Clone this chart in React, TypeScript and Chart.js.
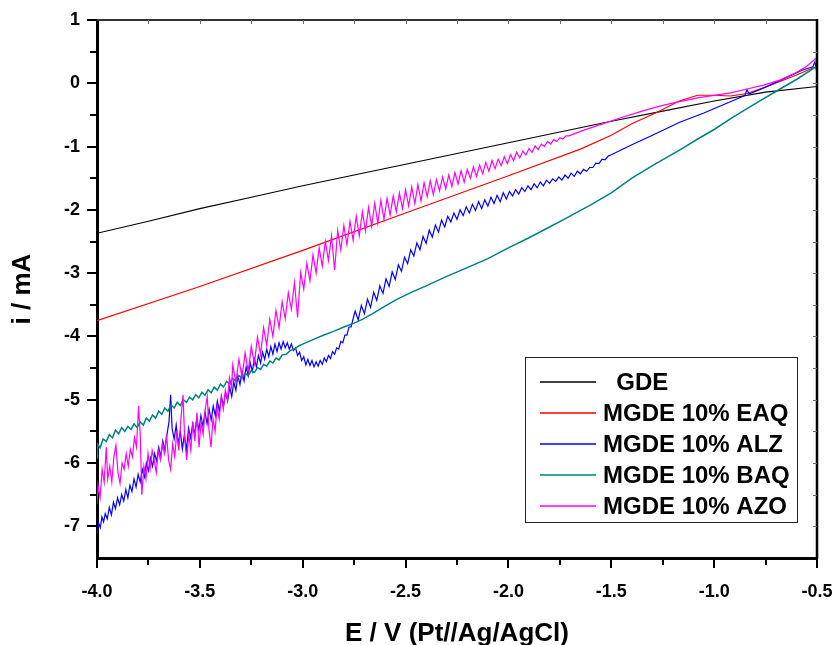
import React, { useEffect, useRef } from "react";
import { Chart, registerables } from "chart.js";

Chart.register(...registerables);

const FONT = '"Liberation Sans", Arial, Helvetica, sans-serif';

// ---------- GDE (black) ----------
const gdeE = [-4.0, -3.75, -3.5, -3.25, -3.0, -2.75, -2.5, -2.25, -2.0, -1.75, -1.5, -1.25, -1.0, -0.75, -0.5];
const gdeI = [-2.37, -2.18, -1.98, -1.8, -1.62, -1.45, -1.28, -1.11, -0.94, -0.77, -0.6, -0.44, -0.28, -0.14, -0.05];

// ---------- MGDE 10% EAQ (red) ----------
const eaqE = [-4.0, -3.5, -3.0, -2.5, -2.0, -1.65, -1.5, -1.4, -1.28, -1.17, -1.08, -1.0, -0.92, -0.84, -0.76, -0.68, -0.6, -0.5];
const eaqI = [-3.75, -3.21, -2.64, -2.05, -1.46, -1.04, -0.82, -0.64, -0.46, -0.28, -0.19, -0.19, -0.2, -0.16, -0.07, 0.03, 0.13, 0.27];

// ---------- MGDE 10% ALZ (blue) ----------
const alzE = [
  -4.000, -3.992, -3.984, -3.976, -3.968, -3.960, -3.950, -3.940, -3.930, -3.920,
  -3.910, -3.900, -3.890, -3.880, -3.870, -3.860, -3.850, -3.840, -3.830, -3.820,
  -3.810, -3.800, -3.790, -3.780, -3.770, -3.760, -3.750, -3.740, -3.730, -3.720,
  -3.710, -3.700, -3.690, -3.680, -3.670, -3.660, -3.650, -3.642, -3.635, -3.625,
  -3.615, -3.605, -3.595, -3.585, -3.575, -3.565, -3.555, -3.545, -3.535, -3.525,
  -3.515, -3.505, -3.495, -3.485, -3.475, -3.465, -3.455, -3.445, -3.435, -3.425,
  -3.415, -3.405, -3.395, -3.385, -3.375, -3.365, -3.355, -3.345, -3.335, -3.325,
  -3.315, -3.305, -3.295, -3.285, -3.275, -3.265, -3.255, -3.245, -3.235, -3.225,
  -3.215, -3.205, -3.195, -3.185, -3.175, -3.165, -3.155, -3.145, -3.135, -3.125,
  -3.115, -3.105, -3.095, -3.085, -3.075, -3.065, -3.055, -3.045, -3.035, -3.025,
  -3.015, -3.005, -2.995, -2.985, -2.975, -2.965, -2.955, -2.945, -2.935, -2.925,
  -2.915, -2.905, -2.895, -2.885, -2.875, -2.865, -2.855, -2.845, -2.835, -2.825,
  -2.815, -2.805, -2.795, -2.785, -2.775, -2.765, -2.755,
  -2.745, -2.730, -2.715, -2.700, -2.685, -2.670, -2.655, -2.640, -2.625, -2.610,
  -2.595, -2.580, -2.565, -2.550, -2.535, -2.520, -2.505, -2.490, -2.475, -2.460,
  -2.445, -2.430, -2.415, -2.400, -2.385, -2.370, -2.355, -2.340, -2.325, -2.310,
  -2.295, -2.280, -2.265, -2.250, -2.235, -2.220, -2.205, -2.190, -2.175, -2.160,
  -2.145, -2.130, -2.115, -2.100, -2.085, -2.070, -2.055, -2.040, -2.025, -2.010,
  -1.995, -1.980, -1.965, -1.950, -1.935, -1.920, -1.905, -1.890, -1.875, -1.860,
  -1.845, -1.830, -1.815, -1.800, -1.785, -1.770, -1.755, -1.740, -1.725, -1.710,
  -1.695, -1.680, -1.665, -1.650, -1.635, -1.620, -1.605, -1.590, -1.575, -1.560,
  -1.545, -1.530, -1.515, -1.500,
  -1.450, -1.400, -1.300, -1.170, -1.050, -0.950, -0.870, -0.850, -0.840, -0.830,
  -0.750, -0.650, -0.570, -0.520, -0.510, -0.505, -0.500,
];
const alzI = [
  -7.12, -6.95, -7.02, -6.85, -6.93, -6.80, -6.88, -6.70, -6.82, -6.62,
  -6.72, -6.55, -6.66, -6.50, -6.60, -6.42, -6.55, -6.35, -6.45, -6.25,
  -6.38, -6.18, -6.30, -6.10, -6.22, -6.00, -6.12, -5.92, -6.05, -5.85,
  -5.97, -5.75, -5.90, -5.65, -5.80, -5.55, -5.35, -4.92, -5.45, -5.62,
  -5.40, -5.70, -5.50, -5.78, -5.55, -5.80, -5.45, -5.60, -5.38, -5.55,
  -5.30, -5.48, -5.25, -5.42, -5.20, -5.38, -5.15, -5.32, -5.10, -5.25,
  -5.02, -5.18, -4.95, -5.10, -4.88, -5.02, -4.80, -4.95, -4.72, -4.85,
  -4.62, -4.76, -4.55, -4.70, -4.48, -4.62, -4.42, -4.55, -4.35, -4.48,
  -4.30, -4.42, -4.25, -4.36, -4.20, -4.32, -4.16, -4.28, -4.12, -4.24,
  -4.10, -4.20, -4.08, -4.18, -4.10, -4.20, -4.12, -4.22, -4.18, -4.30,
  -4.25, -4.38, -4.32, -4.45, -4.36, -4.46, -4.38, -4.48, -4.40, -4.47,
  -4.38, -4.44, -4.34, -4.40, -4.30, -4.35, -4.24, -4.28, -4.18, -4.20,
  -4.08, -4.10, -3.98, -3.98, -3.85, -3.85, -3.72,
  -3.60, -3.74, -3.51, -3.64, -3.41, -3.54, -3.30, -3.43, -3.20, -3.32,
  -3.09, -3.21, -2.98, -3.10, -2.87, -2.97, -2.75, -2.85, -2.63, -2.73,
  -2.52, -2.63, -2.42, -2.53, -2.32, -2.43, -2.24, -2.35, -2.16, -2.27,
  -2.10, -2.19, -2.05, -2.15, -2.00, -2.09, -1.95, -2.05, -1.91, -2.01,
  -1.87, -1.98, -1.84, -1.94, -1.80, -1.90, -1.77, -1.87, -1.73, -1.83,
  -1.71, -1.78, -1.68, -1.75, -1.65, -1.71, -1.62, -1.68, -1.59, -1.65,
  -1.56, -1.62, -1.53, -1.58, -1.51, -1.55, -1.48, -1.53, -1.45, -1.50,
  -1.42, -1.47, -1.39, -1.43, -1.36, -1.39, -1.33, -1.33, -1.26, -1.27,
  -1.20, -1.21, -1.15, -1.13,
  -1.05, -0.97, -0.82, -0.62, -0.47, -0.33, -0.22, -0.19, -0.10, -0.17,
  -0.06, 0.09, 0.21, 0.26, 0.34, 0.24, 0.30,
];

// ---------- MGDE 10% BAQ (teal) ----------
const baqE = [
  -4.000, -3.997, -3.985, -3.970, -3.955, -3.940, -3.925, -3.910, -3.895, -3.880,
  -3.865, -3.850, -3.835, -3.820, -3.805, -3.790, -3.775, -3.760, -3.745, -3.730,
  -3.715, -3.700, -3.685, -3.670, -3.655, -3.640, -3.625, -3.610, -3.595, -3.580,
  -3.565, -3.550, -3.535, -3.520, -3.505, -3.490, -3.475, -3.460, -3.445, -3.430,
  -3.415, -3.400, -3.385, -3.370, -3.355, -3.340, -3.325, -3.310, -3.295, -3.280,
  -3.265, -3.250, -3.235, -3.220, -3.205, -3.190, -3.175, -3.160, -3.145, -3.130,
  -3.115, -3.100, -3.080, -3.060, -3.040, -3.020, -3.000, -2.950, -2.900, -2.850,
  -2.800, -2.750, -2.710, -2.650, -2.600, -2.540, -2.470, -2.400, -2.300, -2.220,
  -2.100, -2.000, -1.900, -1.800, -1.730, -1.600, -1.500, -1.400, -1.300, -1.230,
  -1.150, -1.080, -1.000, -0.910, -0.800, -0.680, -0.600, -0.500,
];
const baqI = [
  -5.92, -5.70, -5.76, -5.62, -5.66, -5.55, -5.60, -5.48, -5.54, -5.44,
  -5.50, -5.42, -5.47, -5.38, -5.44, -5.35, -5.40, -5.29, -5.34, -5.24,
  -5.29, -5.18, -5.23, -5.13, -5.18, -5.08, -5.13, -5.04, -5.09, -5.00,
  -5.04, -4.96, -5.00, -4.92, -4.97, -4.88, -4.93, -4.84, -4.89, -4.80,
  -4.85, -4.75, -4.80, -4.71, -4.75, -4.66, -4.71, -4.62, -4.66, -4.58,
  -4.62, -4.54, -4.57, -4.49, -4.52, -4.44, -4.47, -4.39, -4.42, -4.34,
  -4.37, -4.29, -4.28, -4.22, -4.20, -4.15, -4.12, -4.05, -3.98, -3.92,
  -3.85, -3.79, -3.73, -3.62, -3.52, -3.41, -3.30, -3.20, -3.05, -2.94,
  -2.77, -2.60, -2.44, -2.27, -2.15, -1.92, -1.73, -1.50, -1.30, -1.17,
  -1.02, -0.88, -0.73, -0.54, -0.32, -0.09, 0.06, 0.27,
];

// ---------- MGDE 10% AZO (magenta) ----------
const azoE = [
  -4.000, -3.995, -3.985, -3.975, -3.965, -3.955, -3.948, -3.938, -3.928, -3.918,
  -3.908, -3.898, -3.888, -3.878, -3.868, -3.858, -3.848, -3.838, -3.828, -3.818,
  -3.808, -3.798, -3.790, -3.782, -3.772, -3.762, -3.752, -3.742, -3.732, -3.722,
  -3.712, -3.702, -3.692, -3.682, -3.672, -3.662, -3.652, -3.642, -3.632, -3.622,
  -3.612, -3.602, -3.592, -3.582, -3.574, -3.564, -3.554, -3.544, -3.534, -3.524,
  -3.514, -3.504, -3.494, -3.484, -3.474, -3.464, -3.456, -3.446, -3.436, -3.426,
  -3.416, -3.406, -3.396, -3.386, -3.376, -3.366, -3.356, -3.346,
  -3.340, -3.325, -3.310, -3.295, -3.280, -3.265, -3.250, -3.235, -3.220, -3.205,
  -3.190, -3.175, -3.160, -3.145, -3.130, -3.115, -3.100, -3.085, -3.070, -3.055,
  -3.040, -3.025, -3.010, -2.995, -2.980, -2.965, -2.950, -2.935, -2.920, -2.905,
  -2.890, -2.875, -2.860, -2.845, -2.830, -2.815, -2.800, -2.785, -2.770, -2.755,
  -2.740, -2.725, -2.710, -2.695, -2.680, -2.665, -2.650, -2.635, -2.620, -2.605,
  -2.590, -2.575, -2.560, -2.545, -2.530, -2.515, -2.500, -2.485, -2.470, -2.455,
  -2.440, -2.425, -2.410, -2.395, -2.380, -2.365, -2.350, -2.335, -2.320, -2.305,
  -2.290, -2.275, -2.260, -2.245, -2.230, -2.215, -2.200, -2.185, -2.170, -2.155,
  -2.140, -2.125, -2.110, -2.095, -2.080, -2.065, -2.050, -2.035, -2.020, -2.005,
  -1.990, -1.975, -1.960, -1.945, -1.930, -1.915, -1.900, -1.885, -1.870, -1.855,
  -1.840, -1.825, -1.810, -1.795, -1.780, -1.765, -1.750, -1.735, -1.720, -1.705,
  -1.650, -1.550, -1.450, -1.350, -1.250, -1.170, -1.080, -1.000, -0.920, -0.840,
  -0.760, -0.680, -0.600, -0.550, -0.500,
];
const azoI = [
  -6.65, -6.35, -6.55, -6.10, -6.30, -5.75, -6.25, -6.05, -6.30, -5.90,
  -5.72, -6.15, -6.32, -6.00, -6.10, -5.85, -6.05, -5.78, -5.90, -5.60,
  -5.75, -5.10, -5.55, -6.50, -6.05, -6.25, -5.85, -6.10, -5.80, -5.95,
  -6.15, -5.80, -5.95, -5.70, -5.85, -5.55, -5.95, -6.10, -5.70, -5.90,
  -5.50, -5.80, -5.30, -4.92, -5.60, -5.95, -5.55, -5.80, -5.35, -5.65,
  -5.20, -5.75, -5.35, -5.55, -5.15, -4.95, -5.45, -5.75, -5.30, -5.50,
  -5.10, -5.30, -4.95, -5.15, -4.85, -5.00, -4.65, -4.80,
  -4.45, -4.72, -4.36, -4.65, -4.26, -4.55, -4.16, -4.43, -4.01, -4.28,
  -3.86, -4.14, -3.73, -4.00, -3.59, -3.86, -3.45, -3.72, -3.31, -3.57,
  -3.15, -3.70, -2.99, -3.25, -2.84, -3.12, -2.71, -3.00, -2.60, -2.89,
  -2.50, -2.80, -2.41, -2.95, -2.33, -2.63, -2.25, -2.55, -2.18, -2.48,
  -2.10, -2.41, -2.03, -2.33, -1.96, -2.26, -1.89, -2.21, -1.85, -2.15,
  -1.82, -2.08, -1.78, -2.03, -1.73, -1.98, -1.68, -1.94, -1.64, -1.90,
  -1.60, -1.86, -1.57, -1.79, -1.54, -1.76, -1.52, -1.70, -1.48, -1.67,
  -1.45, -1.63, -1.41, -1.59, -1.38, -1.56, -1.36, -1.50, -1.32, -1.47,
  -1.29, -1.43, -1.25, -1.39, -1.22, -1.35, -1.20, -1.30, -1.16, -1.27,
  -1.13, -1.22, -1.09, -1.18, -1.07, -1.13, -1.03, -1.09, -0.99, -1.05,
  -0.96, -1.00, -0.92, -0.96, -0.89, -0.92, -0.86, -0.88, -0.83, -0.83,
  -0.76, -0.65, -0.54, -0.44, -0.35, -0.29, -0.23, -0.19, -0.15, -0.09,
  -0.03, 0.05, 0.17, 0.27, 0.41,
];

// ---------- axes / labels ----------
const seriesLabels = ["  GDE", "MGDE 10% EAQ", "MGDE 10% ALZ", "MGDE 10% BAQ", "MGDE 10% AZO"];
const seriesColors = ["#000000", "#ff0000", "#0000ff", "#008080", "#ff00ff"];
const xTitle = "E / V (Pt//Ag/AgCl)";
const yTitle = "i / mA";
const xMinorTicks = [-3.75, -3.25, -2.75, -2.25, -1.75, -1.25, -0.75];
const yMinorTicks = [0.5, -0.5, -1.5, -2.5, -3.5, -4.5, -5.5, -6.5];
const xFrameTicks = [-3.75, -3.5, -3.25, -3.0, -2.75, -2.5, -2.25, -2.0, -1.75, -1.5, -1.25, -1.0, -0.75];
const yFrameTicks = [0.5, 0, -0.5, -1, -1.5, -2, -2.5, -3, -3.5, -4, -4.5, -5, -5.5, -6, -6.5, -7];

function pts(xs: number[], ys: number[]) {
  const n = Math.min(xs.length, ys.length);
  const out: { x: number; y: number }[] = [];
  for (let i = 0; i < n; i++) out.push({ x: xs[i], y: ys[i] });
  return out;
}

const framePlugin = {
  id: "frameAndMinor",
  afterDraw(chart: any) {
    const { ctx, chartArea, scales } = chart;
    const xs = scales.x;
    const ys = scales.y;
    ctx.save();
    ctx.strokeStyle = "#333";
    ctx.lineWidth = 2;
    ctx.beginPath();
    ctx.moveTo(chartArea.left, chartArea.top);
    ctx.lineTo(chartArea.right, chartArea.top);
    ctx.stroke();
    ctx.strokeStyle = "#000";
    ctx.lineWidth = 2.5;
    ctx.beginPath();
    ctx.moveTo(chartArea.right, chartArea.top - 1);
    ctx.lineTo(chartArea.right, chartArea.bottom + 1);
    ctx.stroke();
    ctx.strokeStyle = "#666";
    ctx.lineWidth = 1;
    xFrameTicks.forEach((v) => {
      const px = Math.round(xs.getPixelForValue(v)) + 0.5;
      ctx.beginPath();
      ctx.moveTo(px, chartArea.top);
      ctx.lineTo(px, chartArea.top + 4);
      ctx.stroke();
    });
    yFrameTicks.forEach((v) => {
      const py = Math.round(ys.getPixelForValue(v)) + 0.5;
      ctx.beginPath();
      ctx.moveTo(chartArea.right - 4, py);
      ctx.lineTo(chartArea.right, py);
      ctx.stroke();
    });
    ctx.strokeStyle = "#000";
    ctx.lineWidth = 2;
    xMinorTicks.forEach((v) => {
      const px = Math.round(xs.getPixelForValue(v));
      ctx.beginPath();
      ctx.moveTo(px, chartArea.bottom);
      ctx.lineTo(px, chartArea.bottom + 7);
      ctx.stroke();
    });
    yMinorTicks.forEach((v) => {
      const py = Math.round(ys.getPixelForValue(v));
      ctx.beginPath();
      ctx.moveTo(chartArea.left, py);
      ctx.lineTo(chartArea.left - 7, py);
      ctx.stroke();
    });
    ctx.restore();
  },
};

const legendPlugin = {
  id: "boxLegend",
  afterDraw(chart: any) {
    const ctx = chart.ctx;
    ctx.save();
    const bx = 525, by = 357, bw = 272, bh = 165;
    ctx.fillStyle = "#fff";
    ctx.fillRect(bx, by, bw, bh);
    ctx.strokeStyle = "#222";
    ctx.lineWidth = 1;
    ctx.strokeRect(bx + 0.5, by + 0.5, bw, bh);
    ctx.font = `bold 24px ${FONT}`;
    ctx.textBaseline = "middle";
    ctx.textAlign = "left";
    seriesLabels.forEach((label, i) => {
      const y = 382 + i * 31;
      ctx.strokeStyle = seriesColors[i];
      ctx.lineWidth = 1.5;
      ctx.beginPath();
      ctx.moveTo(540, y);
      ctx.lineTo(596, y);
      ctx.stroke();
      ctx.fillStyle = "#000";
      ctx.fillText(label, 603, y + 1);
    });
    ctx.restore();
  },
};

export default function App() {
  const canvasRef = useRef<HTMLCanvasElement | null>(null);

  useEffect(() => {
    if (!canvasRef.current) return;
    const seriesData = [
      pts(gdeE, gdeI),
      pts(eaqE, eaqI),
      pts(alzE, alzI),
      pts(baqE, baqI),
      pts(azoE, azoI),
    ];
    const widths = [1.1, 1.1, 1.2, 1.5, 1.2];
    const orders = [5, 4, 3, 2, 1];
    const chart = new Chart(canvasRef.current, {
      type: "scatter",
      data: {
        datasets: seriesData.map((d, i) => ({
          label: seriesLabels[i],
          data: d,
          showLine: true,
          borderColor: seriesColors[i],
          backgroundColor: seriesColors[i],
          borderWidth: widths[i],
          pointRadius: 0,
          tension: 0,
          order: orders[i],
        })),
      },
      options: {
        responsive: false,
        animation: false,
        devicePixelRatio: 1,
        layout: { padding: { top: 20, right: 17, left: 0, bottom: 0 } },
        plugins: { legend: { display: false }, tooltip: { enabled: false } },
        scales: {
          x: {
            type: "linear",
            min: -4,
            max: -0.5,
            ticks: {
              stepSize: 0.5,
              autoSkip: false,
              maxRotation: 0,
              padding: 13,
              color: "#000",
              font: { family: FONT, size: 18, weight: "bold" },
              callback: (v: any) => Number(v).toFixed(1),
            },
            grid: { display: true, drawOnChartArea: false, drawTicks: true, tickLength: 10, lineWidth: 2, color: "#000" },
            border: { display: true, width: 3, color: "#000" },
            title: {
              display: true,
              text: xTitle,
              color: "#000",
              font: { family: FONT, size: 26, weight: "bold" },
              padding: { top: 0, bottom: -4 },
            },
            afterFit: (s: any) => {
              s.height = 87;
              s.paddingLeft = 0;
              s.paddingRight = 0;
            },
          },
          y: {
            type: "linear",
            min: -7.5,
            max: 1,
            ticks: {
              stepSize: 1,
              includeBounds: false,
              padding: 7,
              color: "#000",
              font: { family: FONT, size: 18, weight: "bold" },
              callback: (v: any) => String(Number(v)),
            },
            grid: { display: true, drawOnChartArea: false, drawTicks: true, tickLength: 10, lineWidth: 2, color: "#000" },
            border: { display: true, width: 3, color: "#000" },
            title: {
              display: true,
              text: yTitle,
              color: "#000",
              font: { family: FONT, size: 26, weight: "bold" },
              padding: { top: 7, bottom: 0 },
            },
            afterFit: (s: any) => {
              s.width = 97;
              s.paddingTop = 0;
              s.paddingBottom = 0;
            },
          },
        },
      } as any,
      plugins: [framePlugin, legendPlugin],
    });
    return () => chart.destroy();
  }, []);

  return (
    <div style={{ position: "absolute", left: 0, top: 0, width: 834, height: 645, background: "#fff" }}>
      <canvas ref={canvasRef} width={834} height={645} style={{ display: "block" }} />
    </div>
  );
}
